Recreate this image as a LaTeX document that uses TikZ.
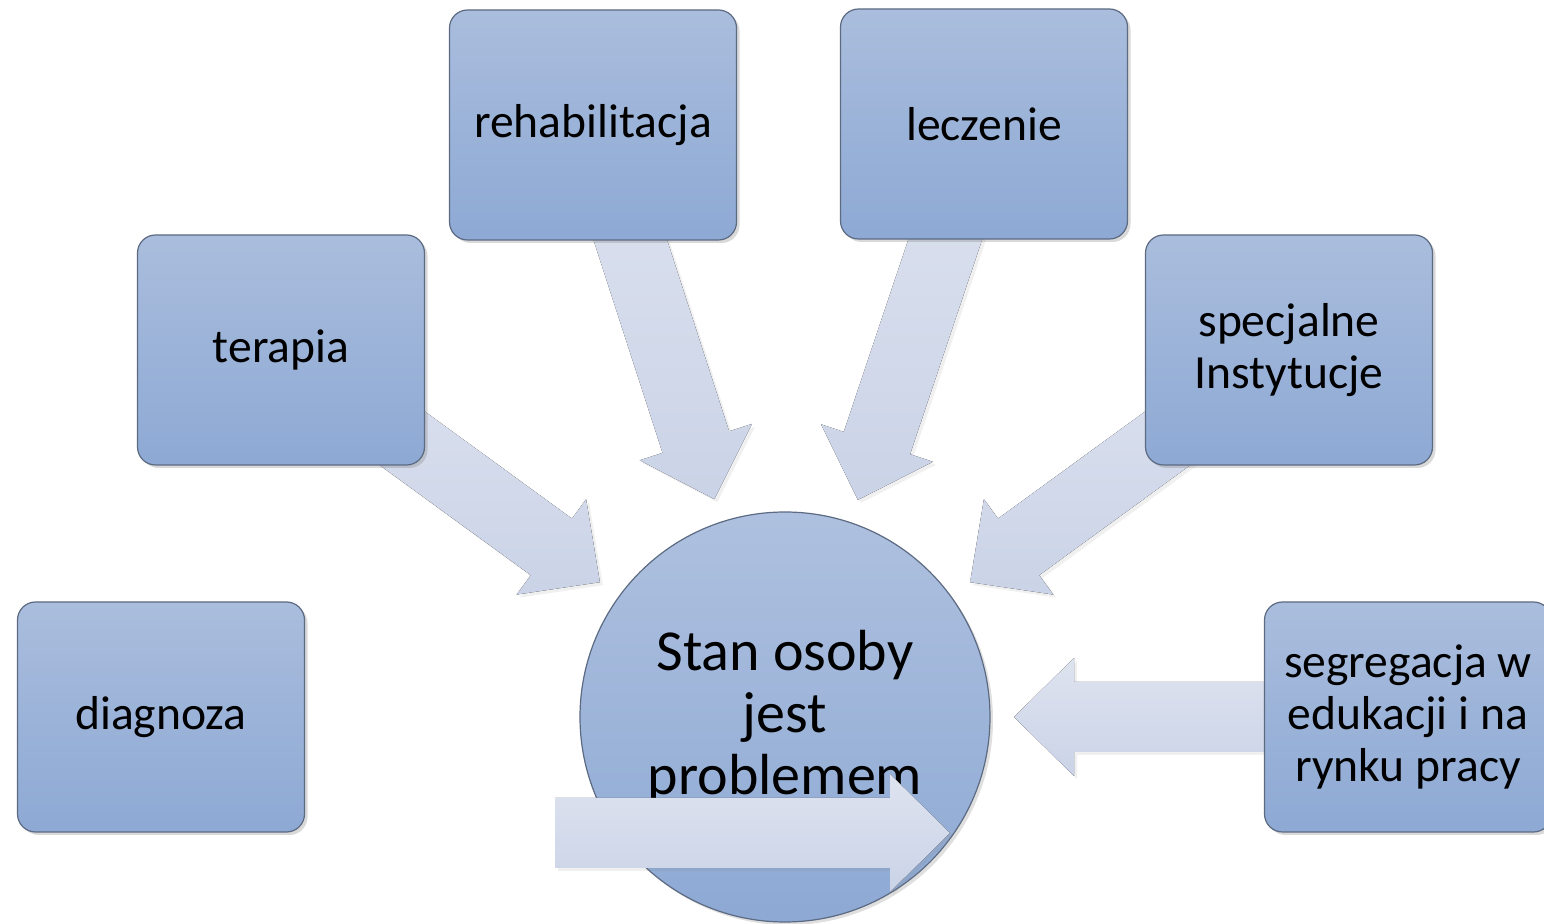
\documentclass[tikz,border=0pt]{standalone}
\usepackage{fontspec}
\setmainfont{Carlito}
\usepackage{tikz}
\usetikzlibrary{calc, shadows, backgrounds}

\definecolor{boxtop}{RGB}{170,189,221}
\definecolor{boxbottom}{RGB}{141,169,212}
\definecolor{boxline}{RGB}{92,106,130}
\definecolor{arrowtop}{RGB}{222,227,239}
\definecolor{arrowbottom}{RGB}{202,211,231}

% block arrow from #1 to #2
\newcommand{\fatarrow}[2]{%
    \coordinate (neck) at ($(#2)!30pt!(#1)$);
    \fill[fat] ($(#1)!17.5pt!90:(#2)$) -- ($(neck)!17.5pt!90:(#2)$) -- ($(neck)!29.5pt!90:(#2)$) -- (#2)
        -- ($(neck)!29.5pt!-90:(#2)$) -- ($(neck)!17.5pt!-90:(#2)$) -- ($(#1)!17.5pt!-90:(#2)$) -- cycle;}

\begin{document}
\begin{tikzpicture}[x=0.5pt, y=-0.5pt,
        box/.style={rectangle, rounded corners=9pt, draw=boxline, line width=0.6pt,
            top color=boxtop, bottom color=boxbottom, minimum width=143.5pt, minimum height=115pt,
            align=center, font=\fontsize{23.8}{26}\selectfont,
            drop shadow={opacity=0.3, shadow xshift=1.5pt, shadow yshift=-1.5pt}},
        fat/.style={top color=arrowtop, bottom color=arrowbottom,
            drop shadow={opacity=0.12, shadow xshift=1.5pt, shadow yshift=-1.5pt}}]
    \useasboundingbox (0,0) rectangle (1544,924);

    \node[box] (diag) at (161,717) {diagnoza};
    \node[box] (ter) at (281,350) {terapia};
    \node[box] (rehab) at (593,125) {rehabilitacja};
    \node[box] (lecz) at (984,124) {leczenie};
    \node[box] (inst) at (1289,350) {specjalne\\Instytucje};
    \node[box] (segr) at (1408,717) {segregacja w\\edukacji i na\\rynku pracy};

    \node[circle, draw=boxline, line width=0.6pt, top color=boxtop!95!white, bottom color=boxbottom,
        minimum size=205pt, drop shadow={opacity=0.25, shadow xshift=1.5pt, shadow yshift=-1.5pt}] (stan) at (785,717) {};
    \node[align=center, font=\fontsize{29}{31}\selectfont] (stantext) at (stan.center) {Stan osoby\\jest\\problemem};

    \begin{scope}[on background layer]
        \foreach \src in {ter, rehab, lecz, inst, segr} {
            \coordinate (tip-\src) at ($(stan.center)!114.5pt!(\src.center)$);
            \fatarrow{\src.center}{tip-\src}
        }
    \end{scope}

    % the stray arrow lying over the circle
    \coordinate (dtail) at (555,833);
    \coordinate (dtip) at (950,833);
    \fatarrow{dtail}{dtip}
\end{tikzpicture}
\end{document}
